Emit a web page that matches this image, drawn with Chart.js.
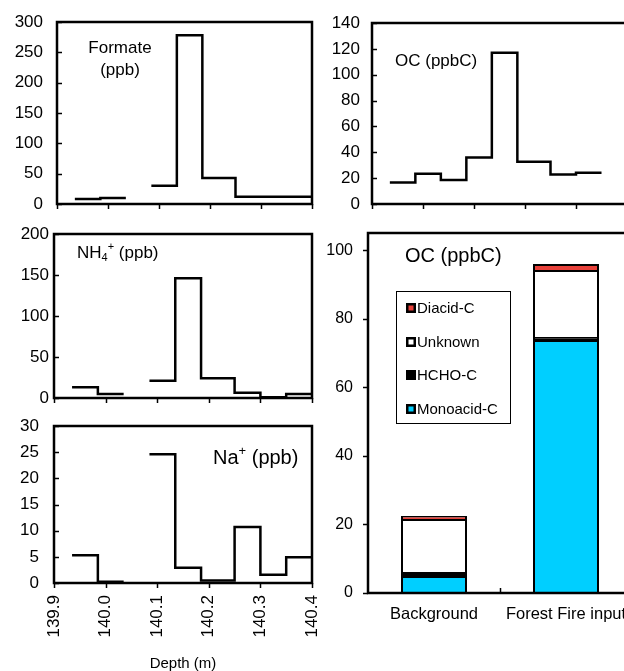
<!DOCTYPE html>
<html lang="en">
<head>
<meta charset="utf-8">
<title>Forest fire signal – depth profiles and OC</title>
<script src="https://cdn.jsdelivr.net/npm/chart.js"></script>
<style>
    html, body { margin: 0; padding: 0; width: 624px; height: 671px; overflow: hidden; background: #fff; }
    canvas { position: absolute; }
</style>
</head>
<body>
<canvas id="formiatChart"></canvas>
<canvas id="ocChart"></canvas>
<canvas id="ammoniumChart"></canvas>
<canvas id="natriumChart"></canvas>
<canvas id="balkenChart"></canvas>
<script>
// Tiefengrenzen der Proben (m), jeder Wert gilt von Grenze i bis i+1
const tiefenGrenzen = [139.935, 139.985, 140.035, 140.085, 140.135, 140.185, 140.25, 140.30, 140.35, 140.40];
const tiefenTicks = [139.9, 140.0, 140.1, 140.2, 140.3, 140.4];

const formiatWerte = [8.2, 9.9, null, 30, 278, 43, 12, 12, 12];
const ocWerte = [16.7, 23.4, 18.5, 36, 117, 32.7, 22.9, 24.2, null];
const ammoniumWerte = [13, 5, null, 21, 146, 24, 6.4, 1, 5];
const natriumWerte = [5.3, 0.25, null, 24.6, 2.9, 0.5, 10.7, 1.6, 4.9];

// Gestapelte Balken OC (ppbC)
const kategorien = ['Background', 'Forest Fire input'];
const monoacidWerte = [5.0, 73.9];
const hchoWerte = [1.2, 0.9];
const unknownWerte = [15.3, 19.4];
const diacidWerte = [0.9, 1.7];

const SCHRIFT = '"Liberation Sans", Arial, sans-serif';

// Stufenpunkte aus Segmentwerten bauen (null = Lücke)
function stufenPunkte(werte) {
    const punkte = [];
    werte.forEach((w, i) => {
        if (w === null) {
            punkte.push({ x: tiefenGrenzen[i], y: null });
            return;
        }
        punkte.push({ x: tiefenGrenzen[i], y: w });
        const naechster = werte[i + 1];
        if (naechster === null || naechster === undefined) {
            punkte.push({ x: tiefenGrenzen[i + 1], y: w });
        }
    });
    return punkte;
}

// Text mit Hoch-/Tiefstellung zeichnen
function zeichneText(ctx, x, y, teile) {
    let px = x;
    teile.forEach(t => {
        ctx.font = `${t.groesse}px ${SCHRIFT}`;
        ctx.fillText(t.text, px, y + (t.dy || 0));
        px += ctx.measureText(t.text).width;
    });
}

// Rahmen, Tickstriche und Beschriftungen im Diagramm
const rahmenPlugin = {
    id: 'rahmen',
    afterDatasetsDraw(chart, args, o) {
        const { ctx, chartArea: a, scales } = chart;
        ctx.save();
        ctx.strokeStyle = '#000';
        ctx.lineWidth = 1.5;
        const yS = scales.y;
        yS.ticks.forEach(t => {
            const y = Math.round(yS.getPixelForValue(t.value)) + 0.5;
            ctx.beginPath();
            if (o.yTicks === 'innen') {
                ctx.moveTo(a.left, y); ctx.lineTo(a.left + 5, y);
            } else {
                ctx.moveTo(a.left, y); ctx.lineTo(a.left - 5, y);
            }
            ctx.stroke();
        });
        const xS = scales.x;
        if (o.xTicks === 'aussen') {
            xS.ticks.forEach(t => {
                const x = Math.round(xS.getPixelForValue(t.value)) + 0.5;
                ctx.beginPath();
                ctx.moveTo(x, a.bottom); ctx.lineTo(x, a.bottom + 5);
                ctx.stroke();
            });
        } else if (o.xTicks === 'zwischen') {
            for (let i = 0; i < xS.ticks.length - 1; i++) {
                const x = Math.round((xS.getPixelForValue(i) + xS.getPixelForValue(i + 1)) / 2) + 0.5;
                ctx.beginPath();
                ctx.moveTo(x, a.bottom); ctx.lineTo(x, a.bottom - 5);
                ctx.stroke();
            }
        }
        ctx.lineWidth = 2.5;
        ctx.strokeRect(a.left, a.top, a.right - a.left, a.bottom - a.top);

        ctx.fillStyle = '#000';
        ctx.textBaseline = 'middle';
        (o.texte || []).forEach(t => {
            ctx.textAlign = t.mitte ? 'center' : 'left';
            zeichneText(ctx, a.left + t.x, a.top + t.y, t.teile);
        });
        ctx.restore();
    }
};

// Balkenkanten auf ganze Pixel legen, damit keine grauen Nähte entstehen
const rasterPlugin = {
    id: 'raster',
    beforeDatasetsDraw(chart) {
        if (chart.config.type !== 'bar') return;
        chart.getSortedVisibleDatasetMetas().forEach(meta => {
            meta.data.forEach(el => {
                el.x = Math.round(el.x);
                el.y = Math.round(el.y);
                el.base = Math.round(el.base);
            });
        });
    }
};

// Legende im Balkendiagramm
const legendePlugin = {
    id: 'legende',
    afterDraw(chart, args, o) {
        if (!o.zeigen) return;
        const { ctx, chartArea: a } = chart;
        const x0 = a.left + o.x, y0 = a.top + o.y;
        ctx.save();
        ctx.fillStyle = '#fff';
        ctx.fillRect(x0, y0, o.breite, o.hoehe);
        ctx.strokeStyle = '#000';
        ctx.lineWidth = 1;
        ctx.strokeRect(x0 + 0.5, y0 + 0.5, o.breite, o.hoehe);
        const eintraege = chart.data.datasets.slice().reverse();
        eintraege.forEach((d, i) => {
            const yc = Math.round(y0 + o.erster + i * o.abstand);
            ctx.fillStyle = '#000';
            ctx.fillRect(x0 + 10, yc - 5, 10, 10);
            ctx.fillStyle = d.backgroundColor;
            ctx.fillRect(x0 + 12.5, yc - 2.5, 5, 5);
            ctx.fillStyle = '#000';
            ctx.font = `15px ${SCHRIFT}`;
            ctx.textBaseline = 'middle';
            ctx.textAlign = 'left';
            ctx.fillText(d.label, x0 + 21, yc + 1);
        });
        ctx.restore();
    }
};

Chart.register(rahmenPlugin, rasterPlugin, legendePlugin);

function platziere(canvas, box) {
    canvas.style.left = box.left + 'px';
    canvas.style.top = box.top + 'px';
    canvas.width = box.breite;
    canvas.height = box.hoehe;
}

// Achsgrößen fest vorgeben, Label-Überstand nicht in das Layout rechnen
function festeBreite(breite) {
    return s => { s.width = breite; s.paddingTop = 0; s.paddingBottom = 0; };
}
function festeHoehe(hoehe) {
    return s => { s.height = hoehe; s.paddingLeft = 0; s.paddingRight = 0; };
}

function erstelleStufenDiagramm(id, box, flaeche, werte, yMax, yStep, yPadding, texte, mitTiefen) {
    const canvas = document.getElementById(id);
    platziere(canvas, box);
    return new Chart(canvas.getContext('2d'), {
        type: 'line',
        data: {
            datasets: [{
                data: stufenPunkte(werte),
                stepped: true,
                borderColor: '#000',
                borderWidth: 2.5,
                borderJoinStyle: 'miter',
                pointRadius: 0,
                spanGaps: false,
                fill: false
            }]
        },
        options: {
            responsive: false,
            animation: false,
            events: [],
            layout: {
                padding: {
                    top: flaeche.oben - box.top,
                    right: box.left + box.breite - flaeche.rechts,
                    left: 0,
                    bottom: 0
                }
            },
            plugins: {
                legend: { display: false },
                tooltip: { enabled: false },
                rahmen: { yTicks: 'innen', xTicks: 'aussen', texte: texte }
            },
            scales: {
                x: {
                    type: 'linear',
                    min: 139.9,
                    max: 140.4,
                    grid: { display: false, drawTicks: false },
                    border: { display: false },
                    afterBuildTicks: s => { s.ticks = tiefenTicks.map(v => ({ value: v })); },
                    afterFit: festeHoehe(box.top + box.hoehe - flaeche.unten),
                    ticks: {
                        display: mitTiefen,
                        minRotation: 90,
                        maxRotation: 90,
                        padding: 12,
                        color: '#000',
                        font: { family: SCHRIFT, size: 17 },
                        callback: v => Number(v).toFixed(1)
                    },
                    title: {
                        display: mitTiefen,
                        text: 'Depth (m)',
                        color: '#000',
                        font: { family: SCHRIFT, size: 15 },
                        padding: { top: 0, bottom: 0 }
                    }
                },
                y: {
                    min: 0,
                    max: yMax,
                    grid: { display: false, drawTicks: false },
                    border: { display: false },
                    afterFit: festeBreite(flaeche.links - box.left),
                    ticks: {
                        stepSize: yStep,
                        padding: yPadding,
                        color: '#000',
                        font: { family: SCHRIFT, size: 17 }
                    }
                }
            }
        }
    });
}

const gross = (text, groesse) => ({ text: text, groesse: groesse });

erstelleStufenDiagramm('formiatChart',
    { left: 0, top: 0, breite: 322, hoehe: 214 },
    { links: 57, oben: 22, rechts: 312, unten: 204 },
    formiatWerte, 300, 50, 14,
    [
        { x: 63, y: 26, mitte: true, teile: [gross('Formate', 17)] },
        { x: 63, y: 48, mitte: true, teile: [gross('(ppb)', 17)] }
    ], false);

erstelleStufenDiagramm('ocChart',
    { left: 315, top: 0, breite: 330, hoehe: 214 },
    { links: 372, oben: 23, rechts: 627, unten: 204 },
    ocWerte, 140, 20, 12,
    [{ x: 23, y: 38, teile: [gross('OC (ppbC)', 17)] }], false);

erstelleStufenDiagramm('ammoniumChart',
    { left: 0, top: 214, breite: 326, hoehe: 192 },
    { links: 54, oben: 234, rechts: 312, unten: 398 },
    ammoniumWerte, 200, 50, 5,
    [{ x: 23, y: 19, teile: [
        gross('NH', 17),
        { text: '4', groesse: 11, dy: 5 },
        { text: '+', groesse: 11, dy: -6 },
        gross(' (ppb)', 17)
    ] }], false);

erstelleStufenDiagramm('natriumChart',
    { left: 0, top: 406, breite: 326, hoehe: 267 },
    { links: 54, oben: 426, rechts: 312, unten: 583 },
    natriumWerte, 30, 5, 15,
    [{ x: 159, y: 32, teile: [
        gross('Na', 20),
        { text: '+', groesse: 13, dy: -7 },
        gross(' (ppb)', 20)
    ] }], true);

// Gestapeltes Balkendiagramm
const balkenBox = { left: 315, top: 214, breite: 330, hoehe: 460 };
const balkenFlaeche = { links: 368, oben: 233, rechts: 632, unten: 593 };
const balkenCanvas = document.getElementById('balkenChart');
platziere(balkenCanvas, balkenBox);

const balkenStil = { borderColor: '#000', borderWidth: 2, borderSkipped: 'start', inflateAmount: 0, barPercentage: 0.5, categoryPercentage: 1.0 };

new Chart(balkenCanvas.getContext('2d'), {
    type: 'bar',
    data: {
        labels: kategorien,
        datasets: [
            { label: 'Monoacid-C', data: monoacidWerte, backgroundColor: '#00CFFF', ...balkenStil },
            { label: 'HCHO-C', data: hchoWerte, backgroundColor: '#000000', ...balkenStil },
            { label: 'Unknown', data: unknownWerte, backgroundColor: '#FFFFFF', ...balkenStil },
            { label: 'Diacid-C', data: diacidWerte, backgroundColor: '#E8413A', ...balkenStil }
        ]
    },
    options: {
        responsive: false,
        animation: false,
        events: [],
        layout: {
            padding: {
                top: balkenFlaeche.oben - balkenBox.top,
                right: balkenBox.left + balkenBox.breite - balkenFlaeche.rechts,
                left: 0,
                bottom: 0
            }
        },
        plugins: {
            legend: { display: false },
            tooltip: { enabled: false },
            rahmen: {
                yTicks: 'aussen',
                xTicks: 'zwischen',
                texte: [{ x: 37, y: 23, teile: [gross('OC (ppbC)', 20)] }]
            },
            legende: { zeigen: true, x: 28, y: 58, breite: 114, hoehe: 132, erster: 17, abstand: 33.7 }
        },
        scales: {
            x: {
                stacked: true,
                offset: true,
                grid: { display: false, drawTicks: false },
                border: { display: false },
                afterFit: festeHoehe(balkenBox.top + balkenBox.hoehe - balkenFlaeche.unten),
                ticks: {
                    maxRotation: 0,
                    minRotation: 0,
                    autoSkip: false,
                    padding: 12,
                    color: '#000',
                    font: { family: SCHRIFT, size: 16.5 }
                }
            },
            y: {
                stacked: true,
                min: 0,
                max: 105,
                grid: { display: false, drawTicks: false },
                border: { display: false },
                afterFit: festeBreite(balkenFlaeche.links - balkenBox.left),
                ticks: {
                    stepSize: 20,
                    includeBounds: false,
                    padding: 15,
                    color: '#000',
                    font: { family: SCHRIFT, size: 16 }
                }
            }
        }
    }
});
</script>
</body>
</html>
